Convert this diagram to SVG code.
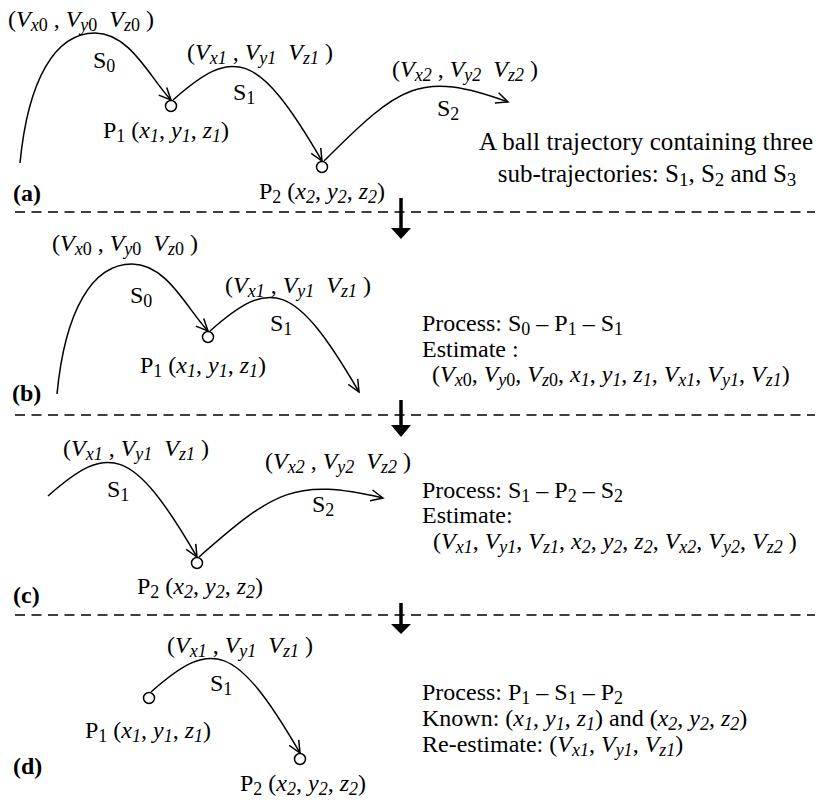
<svg xmlns="http://www.w3.org/2000/svg" width="820" height="800" viewBox="0 0 820 800">
<style>
text{font-family:"Liberation Serif","Times New Roman",serif;font-size:24px;fill:#000}
.i{font-style:italic}
.s{font-size:18px;baseline-shift:-4px}
.b{font-weight:bold}
.big{font-size:25px}
.big .s{font-size:19px}
.arc{fill:none;stroke:#000;stroke-width:1.5}
.arr{marker-end:url(#ah)}
.pt{fill:#fff;stroke:#000;stroke-width:1.5}
.dash{stroke:#000;stroke-width:1.5;stroke-dasharray:10 6.5}
.fa{stroke:#000;stroke-width:3.5}
</style>
<defs>
<marker id="ah" viewBox="-13 -7 15 14" markerWidth="15" markerHeight="14" refX="0" refY="0" orient="auto" markerUnits="userSpaceOnUse"><path d="M-12,-5.5 L0,0 L-12,5.5" fill="none" stroke="#000" stroke-width="1.5"/></marker>
<path id="s0" d="M20,163 C28,80 55,33 95,33 C130,33 150,78 171,100"/>
<path id="s1" d="M173,100 C233,47 257,49 322,161"/>
<path id="s2" d="M324,161 C400,85 420,70 508,102"/>
</defs>
<rect width="820" height="800" fill="#fff"/>

<g id="dividers">
<line class="dash" x1="15" y1="212" x2="815" y2="212"/>
<line class="dash" x1="15" y1="415" x2="815" y2="415"/>
<line class="dash" x1="15" y1="615" x2="815" y2="615"/>
</g>
<g id="flow-arrows">
<line class="fa" x1="401" y1="198" x2="401" y2="230"/><polygon points="391,228 411,228 401,239"/>
<line class="fa" x1="401" y1="400" x2="401" y2="427"/><polygon points="391,425 411,425 401,437"/>
<line class="fa" x1="401" y1="603" x2="401" y2="626"/><polygon points="391,624 411,624 401,634"/>
</g>

<!-- Panel (a) -->
<g id="panel-a">
<g id="a-connectors">
<use href="#s0" class="arc arr"/>
<use href="#s1" class="arc arr"/>
<use href="#s2" class="arc arr"/>
</g>
<g id="a-P1"><circle class="pt" cx="171" cy="106" r="5.5"/><text x="103" y="138" xml:space="preserve">P<tspan class="s">1</tspan> (<tspan class="i">x</tspan><tspan class="s i">1</tspan>, <tspan class="i">y</tspan><tspan class="s i">1</tspan>, <tspan class="i">z</tspan><tspan class="s i">1</tspan>)</text></g>
<g id="a-P2"><circle class="pt" cx="322" cy="167" r="5.5"/><text x="259" y="199" xml:space="preserve">P<tspan class="s">2</tspan> (<tspan class="i">x</tspan><tspan class="s i">2</tspan>, <tspan class="i">y</tspan><tspan class="s i">2</tspan>, <tspan class="i">z</tspan><tspan class="s i">2</tspan>)</text></g>
<g id="a-labels">
<text x="8" y="27" xml:space="preserve">(<tspan class="i">V</tspan><tspan class="s i">x</tspan><tspan class="s">0</tspan> , <tspan class="i">V</tspan><tspan class="s i">y</tspan><tspan class="s">0</tspan>  <tspan class="i">V</tspan><tspan class="s i">z</tspan><tspan class="s">0</tspan> )</text>
<text x="93" y="68">S<tspan class="s">0</tspan></text>
<text x="187" y="60" xml:space="preserve">(<tspan class="i">V</tspan><tspan class="s i">x1</tspan> , <tspan class="i">V</tspan><tspan class="s i">y1</tspan>  <tspan class="i">V</tspan><tspan class="s i">z1</tspan> )</text>
<text x="233" y="100">S<tspan class="s">1</tspan></text>
<text x="392" y="77" xml:space="preserve">(<tspan class="i">V</tspan><tspan class="s i">x2</tspan> , <tspan class="i">V</tspan><tspan class="s i">y2</tspan>  <tspan class="i">V</tspan><tspan class="s i">z2</tspan> )</text>
<text x="437" y="116">S<tspan class="s">2</tspan></text>
<text class="big" x="646" y="150" text-anchor="middle" textLength="334">A ball trajectory containing three</text>
<text class="big" x="647" y="182" text-anchor="middle" xml:space="preserve">sub-trajectories: S<tspan class="s">1</tspan>, S<tspan class="s">2</tspan> and S<tspan class="s">3</tspan></text>
<text class="b" x="13" y="201">(a)</text>
</g>
</g>

<!-- Panel (b) -->
<g id="panel-b">
<g id="b-connectors" transform="translate(37,231)">
<use href="#s0" class="arc arr"/>
<use href="#s1" class="arc arr"/>
</g>
<g id="b-P1"><circle class="pt" cx="208" cy="337" r="5.5"/><text x="140" y="373" xml:space="preserve">P<tspan class="s">1</tspan> (<tspan class="i">x</tspan><tspan class="s i">1</tspan>, <tspan class="i">y</tspan><tspan class="s i">1</tspan>, <tspan class="i">z</tspan><tspan class="s i">1</tspan>)</text></g>
<g id="b-labels">
<text x="52" y="251" xml:space="preserve">(<tspan class="i">V</tspan><tspan class="s i">x</tspan><tspan class="s">0</tspan> , <tspan class="i">V</tspan><tspan class="s i">y</tspan><tspan class="s">0</tspan>  <tspan class="i">V</tspan><tspan class="s i">z</tspan><tspan class="s">0</tspan> )</text>
<text x="130" y="303">S<tspan class="s">0</tspan></text>
<text x="225" y="293" xml:space="preserve">(<tspan class="i">V</tspan><tspan class="s i">x1</tspan> , <tspan class="i">V</tspan><tspan class="s i">y1</tspan>  <tspan class="i">V</tspan><tspan class="s i">z1</tspan> )</text>
<text x="270" y="331">S<tspan class="s">1</tspan></text>
<text x="422" y="331" xml:space="preserve">Process: S<tspan class="s">0</tspan> – P<tspan class="s">1</tspan> – S<tspan class="s">1</tspan></text>
<text x="422" y="357" xml:space="preserve">Estimate :</text>
<text x="432" y="382" xml:space="preserve">(<tspan class="i">V</tspan><tspan class="s i">x</tspan><tspan class="s">0</tspan>, <tspan class="i">V</tspan><tspan class="s i">y</tspan><tspan class="s">0</tspan>, <tspan class="i">V</tspan><tspan class="s i">z</tspan><tspan class="s">0</tspan>, <tspan class="i">x</tspan><tspan class="s i">1</tspan>, <tspan class="i">y</tspan><tspan class="s i">1</tspan>, <tspan class="i">z</tspan><tspan class="s i">1</tspan>, <tspan class="i">V</tspan><tspan class="s i">x1</tspan>, <tspan class="i">V</tspan><tspan class="s i">y1</tspan>, <tspan class="i">V</tspan><tspan class="s i">z1</tspan>)</text>
<text class="b" x="12" y="401">(b)</text>
</g>
</g>

<!-- Panel (c) -->
<g id="panel-c">
<g id="c-connectors">
<use href="#s1" class="arc arr" transform="translate(-125,396)"/>
<path class="arc arr" d="M199,557 C275,490 295,478 383,498"/>
</g>
<g id="c-P2"><circle class="pt" cx="197" cy="563" r="5.5"/><text x="137" y="594" xml:space="preserve">P<tspan class="s">2</tspan> (<tspan class="i">x</tspan><tspan class="s i">2</tspan>, <tspan class="i">y</tspan><tspan class="s i">2</tspan>, <tspan class="i">z</tspan><tspan class="s i">2</tspan>)</text></g>
<g id="c-labels">
<text x="63" y="456" xml:space="preserve">(<tspan class="i">V</tspan><tspan class="s i">x1</tspan> , <tspan class="i">V</tspan><tspan class="s i">y1</tspan>  <tspan class="i">V</tspan><tspan class="s i">z1</tspan> )</text>
<text x="107" y="497">S<tspan class="s">1</tspan></text>
<text x="265" y="469" xml:space="preserve">(<tspan class="i">V</tspan><tspan class="s i">x2</tspan> , <tspan class="i">V</tspan><tspan class="s i">y2</tspan>  <tspan class="i">V</tspan><tspan class="s i">z2</tspan> )</text>
<text x="312" y="512">S<tspan class="s">2</tspan></text>
<text x="422" y="498" xml:space="preserve">Process: S<tspan class="s">1</tspan> – P<tspan class="s">2</tspan> – S<tspan class="s">2</tspan></text>
<text x="422" y="523" xml:space="preserve">Estimate:</text>
<text x="433" y="549" xml:space="preserve">(<tspan class="i">V</tspan><tspan class="s i">x1</tspan>, <tspan class="i">V</tspan><tspan class="s i">y1</tspan>, <tspan class="i">V</tspan><tspan class="s i">z1</tspan>, <tspan class="i">x</tspan><tspan class="s i">2</tspan>, <tspan class="i">y</tspan><tspan class="s i">2</tspan>, <tspan class="i">z</tspan><tspan class="s i">2</tspan>, <tspan class="i">V</tspan><tspan class="s i">x2</tspan>, <tspan class="i">V</tspan><tspan class="s i">y2</tspan>, <tspan class="i">V</tspan><tspan class="s i">z2</tspan> )</text>
<text class="b" x="13" y="603">(c)</text>
</g>
</g>

<!-- Panel (d) -->
<g id="panel-d">
<g id="d-connectors">
<use href="#s1" class="arc arr" transform="translate(-22,592)"/>
</g>
<g id="d-P1"><circle class="pt" cx="149" cy="698" r="5.5"/><text x="85" y="738" xml:space="preserve">P<tspan class="s">1</tspan> (<tspan class="i">x</tspan><tspan class="s i">1</tspan>, <tspan class="i">y</tspan><tspan class="s i">1</tspan>, <tspan class="i">z</tspan><tspan class="s i">1</tspan>)</text></g>
<g id="d-P2"><circle class="pt" cx="300" cy="759" r="5.5"/><text x="240" y="791" xml:space="preserve">P<tspan class="s">2</tspan> (<tspan class="i">x</tspan><tspan class="s i">2</tspan>, <tspan class="i">y</tspan><tspan class="s i">2</tspan>, <tspan class="i">z</tspan><tspan class="s i">2</tspan>)</text></g>
<g id="d-labels">
<text x="167" y="653" xml:space="preserve">(<tspan class="i">V</tspan><tspan class="s i">x1</tspan> , <tspan class="i">V</tspan><tspan class="s i">y1</tspan>  <tspan class="i">V</tspan><tspan class="s i">z1</tspan> )</text>
<text x="210" y="691">S<tspan class="s">1</tspan></text>
<text x="422" y="700" xml:space="preserve">Process: P<tspan class="s">1</tspan> – S<tspan class="s">1</tspan> – P<tspan class="s">2</tspan></text>
<text x="422" y="726" xml:space="preserve">Known: (<tspan class="i">x</tspan><tspan class="s i">1</tspan>, <tspan class="i">y</tspan><tspan class="s i">1</tspan>, <tspan class="i">z</tspan><tspan class="s i">1</tspan>) and (<tspan class="i">x</tspan><tspan class="s i">2</tspan>, <tspan class="i">y</tspan><tspan class="s i">2</tspan>, <tspan class="i">z</tspan><tspan class="s i">2</tspan>)</text>
<text x="422" y="752" xml:space="preserve">Re-estimate: (<tspan class="i">V</tspan><tspan class="s i">x1</tspan>, <tspan class="i">V</tspan><tspan class="s i">y1</tspan>, <tspan class="i">V</tspan><tspan class="s i">z1</tspan>)</text>
<text class="b" x="13" y="774">(d)</text>
</g>
</g>
</svg>
